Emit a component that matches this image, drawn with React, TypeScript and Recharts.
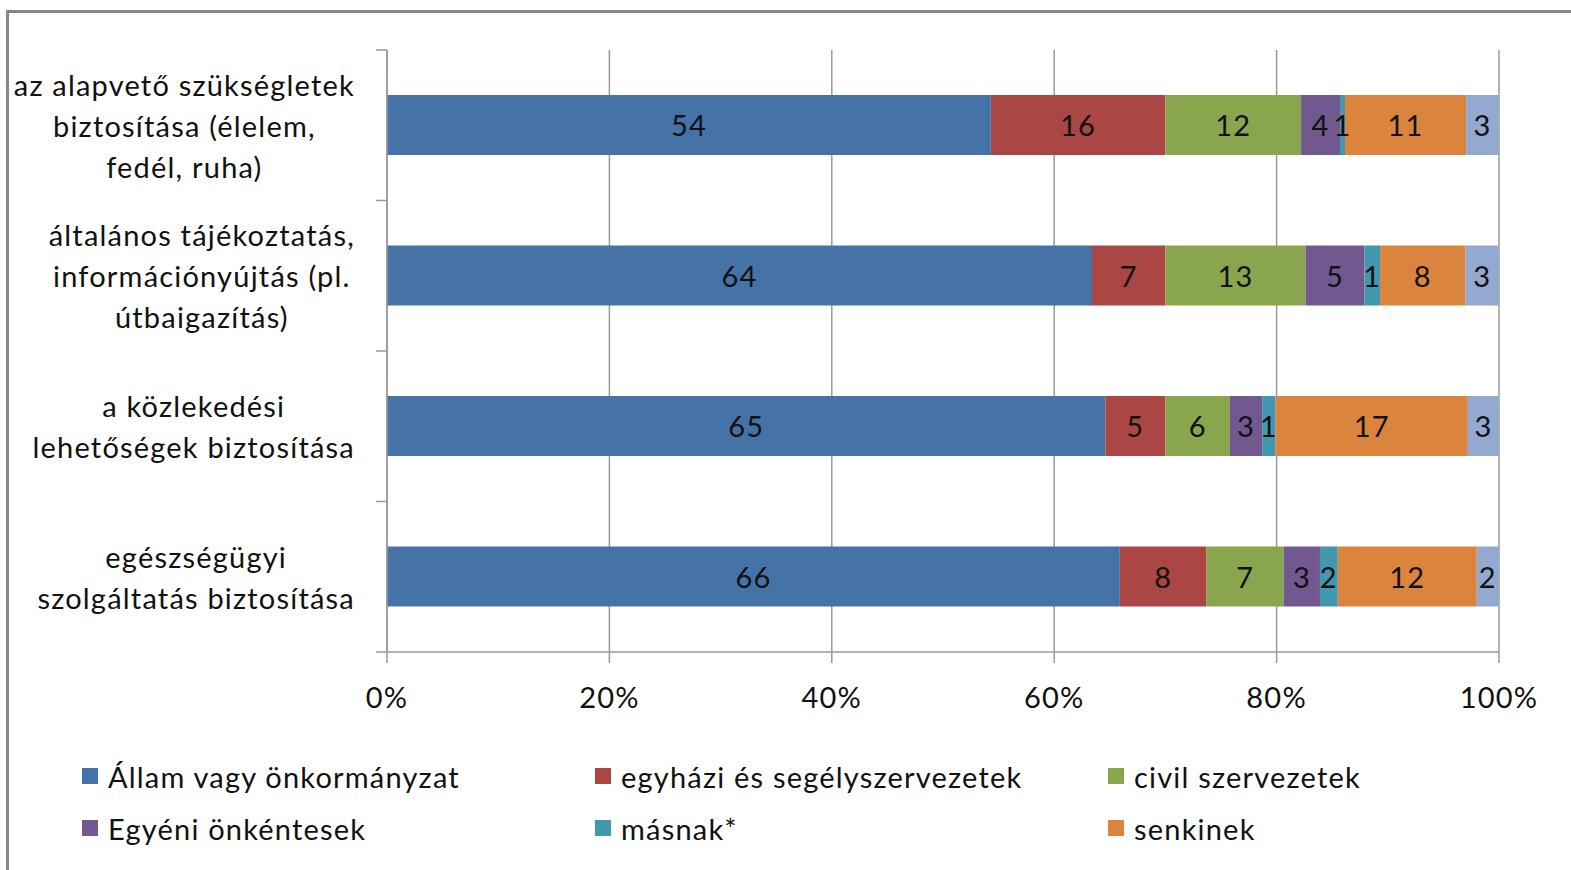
import React from 'react';
import { BarChart, Bar, XAxis, YAxis, CartesianGrid, LabelList, Legend } from 'recharts';

const categories = [
  'az alapvető szükségletek\nbiztosítása (élelem,\nfedél, ruha)',
  'általános tájékoztatás,\ninformációnyújtás (pl.\nútbaigazítás)',
  'a közlekedési\nlehetőségek biztosítása',
  'egészségügyi\nszolgáltatás biztosítása',
];

const seriesNames = [
  'Állam vagy önkormányzat',
  'egyházi és segélyszervezetek',
  'civil szervezetek',
  'Egyéni önkéntesek',
  'másnak*',
  'senkinek',
  'nem tudja',
];
const seriesColors = ['#4572A7', '#AA4643', '#89A54E', '#71588F', '#4198AF', '#DB843D', '#93A9CF'];

// bar widths (share in %)
const allam = [54.3, 63.4, 64.6, 65.9];
const egyhazi = [15.7, 6.6, 5.4, 7.8];
const civil = [12.2, 12.6, 5.8, 6.95];
const egyeni = [3.5, 5.3, 2.9, 3.25];
const masnak = [0.45, 1.4, 1.2, 1.6];
const senkinek = [10.9, 7.7, 17.3, 12.5];
const nemTudja = [2.95, 3.0, 2.8, 2.0];

// data labels as printed on the bars
const allamLabels = [54, 64, 65, 66];
const egyhaziLabels = [16, 7, 5, 8];
const civilLabels = [12, 13, 6, 7];
const egyeniLabels = [4, 5, 3, 3];
const masnakLabels = [1, 1, 1, 2];
const senkinekLabels = [11, 8, 17, 12];
const nemTudjaLabels = [3, 3, 3, 2];

const xTicks = [0, 20, 40, 60, 80, 100];

const seriesValues = [allam, egyhazi, civil, egyeni, masnak, senkinek, nemTudja];
const seriesLabels = [allamLabels, egyhaziLabels, civilLabels, egyeniLabels, masnakLabels, senkinekLabels, nemTudjaLabels];

const data = categories.map((c, i) => {
  const row: any = { name: c };
  seriesValues.forEach((arr, s) => {
    row['s' + s] = arr[i];
    row['l' + s] = seriesLabels[s][i];
  });
  return row;
});

const W = 1571;
const H = 870;
const FONT_FAMILY = 'Lato, "Open Sans", sans-serif';
const FONT_SIZE = 29;
const LS = 1.2;
const FONT = `${FONT_SIZE}px Lato`;
const PLOT_LEFT = 387;
const PLOT_TOP = 50;
const PLOT_BOTTOM = 652;
const BAND = (PLOT_BOTTOM - PLOT_TOP) / categories.length;
const LABEL_RIGHT = 355;
const LINE_H = 41;
const AXIS_COLOR = '#9a9a9a';
const TEXT_COLOR = '#111';

let ctx: CanvasRenderingContext2D | null = null;
function textWidth(s: string) {
  if (!ctx && typeof document !== 'undefined') {
    ctx = document.createElement('canvas').getContext('2d');
  }
  if (!ctx) return s.length * (FONT_SIZE * 0.5 + LS);
  ctx.font = FONT;
  return ctx.measureText(s).width + s.length * LS;
}

const YTick = (props: any) => {
  const { y, payload, index } = props;
  const lines = String(payload.value).split('\n');
  const w = Math.max(...lines.map(textWidth));
  const cx = LABEL_RIGHT - w / 2;
  const top = y + 1 - ((lines.length - 1) * LINE_H) / 2;
  return (
    <g>
      <line x1={PLOT_LEFT - 11} x2={PLOT_LEFT} y1={y - BAND / 2} y2={y - BAND / 2} stroke={AXIS_COLOR} strokeWidth={1.5} />
      {index === categories.length - 1 && (
        <line x1={PLOT_LEFT - 11} x2={PLOT_LEFT} y1={y + BAND / 2} y2={y + BAND / 2} stroke={AXIS_COLOR} strokeWidth={1.5} />
      )}
      <text textAnchor="middle" fontSize={FONT_SIZE} fontFamily={FONT_FAMILY} fill={TEXT_COLOR} style={{ letterSpacing: LS }}>
        {lines.map((l, i) => (
          <tspan key={i} x={cx} y={top + i * LINE_H} dy="0.36em">
            {l}
          </tspan>
        ))}
      </text>
    </g>
  );
};

const XTick = (props: any) => {
  const { x, payload } = props;
  return (
    <text x={x} y={708} textAnchor="middle" fontSize={FONT_SIZE} fontFamily={FONT_FAMILY} fill={TEXT_COLOR} style={{ letterSpacing: LS }}>
      {payload.value}%
    </text>
  );
};

const BarLabel = (props: any) => {
  const { x, y, width, height, value } = props;
  return (
    <text
      x={x + width / 2}
      y={y + height / 2 + 1}
      dy="0.36em"
      textAnchor="middle"
      fontSize={FONT_SIZE}
      fontFamily={FONT_FAMILY}
      fill={TEXT_COLOR}
      style={{ letterSpacing: LS }}
    >
      {value}
    </text>
  );
};

const legendItems = [0, 1, 2, 3, 4, 5];
const legendCols = [82, 595, 1108];

const LegendContent = () => (
  <div style={{ position: 'relative', width: W, height: 104 }}>
    {legendItems.map((s, k) => {
      const col = k % 3;
      const row = Math.floor(k / 3);
      return (
        <div
          key={s}
          style={{
            position: 'absolute',
            left: legendCols[col],
            top: row * 52,
            height: 52,
            display: 'flex',
            alignItems: 'center',
            fontFamily: FONT_FAMILY,
            fontSize: FONT_SIZE,
            letterSpacing: LS,
            color: TEXT_COLOR,
            whiteSpace: 'nowrap',
          }}
        >
          <span style={{ display: 'inline-block', width: 16, height: 16, background: seriesColors[s], marginRight: 10 }} />
          {seriesNames[s]}
        </div>
      );
    })}
  </div>
);

export default function App() {
  return (
    <div style={{ position: 'absolute', left: 0, top: 0, width: W, height: H, overflow: 'hidden', background: '#fff' }}>
      <div
        style={{
          position: 'absolute',
          left: 6,
          top: 10,
          width: W + 100,
          height: H + 100,
          border: '3px solid #878787',
          boxSizing: 'border-box',
        }}
      />
      <div style={{ position: 'absolute', left: 0, top: 0 }}>
        <BarChart
          width={W}
          height={H}
          data={data}
          layout="vertical"
          margin={{ top: PLOT_TOP, right: 72, left: 0, bottom: 16 }}
          barSize={60}
        >
          <CartesianGrid horizontal={false} vertical={true} stroke={AXIS_COLOR} strokeWidth={1.5} />
          <XAxis
            type="number"
            domain={[0, 100]}
            ticks={xTicks}
            interval={0}
            height={98}
            tickSize={11}
            tick={<XTick />}
            axisLine={{ stroke: AXIS_COLOR, strokeWidth: 1.5 }}
            tickLine={{ stroke: AXIS_COLOR, strokeWidth: 1.5 }}
            allowDataOverflow
          />
          <YAxis
            type="category"
            dataKey="name"
            width={PLOT_LEFT}
            tick={<YTick />}
            tickLine={false}
            axisLine={{ stroke: AXIS_COLOR, strokeWidth: 1.5 }}
            interval={0}
          />
          <Legend verticalAlign="bottom" content={<LegendContent />} wrapperStyle={{ left: 0, width: W }} />
          {seriesNames.map((n, s) => (
            <Bar key={s} dataKey={'s' + s} name={n} stackId="a" fill={seriesColors[s]} isAnimationActive={false}>
              <LabelList dataKey={'l' + s} content={<BarLabel />} />
            </Bar>
          ))}
        </BarChart>
      </div>
    </div>
  );
}
